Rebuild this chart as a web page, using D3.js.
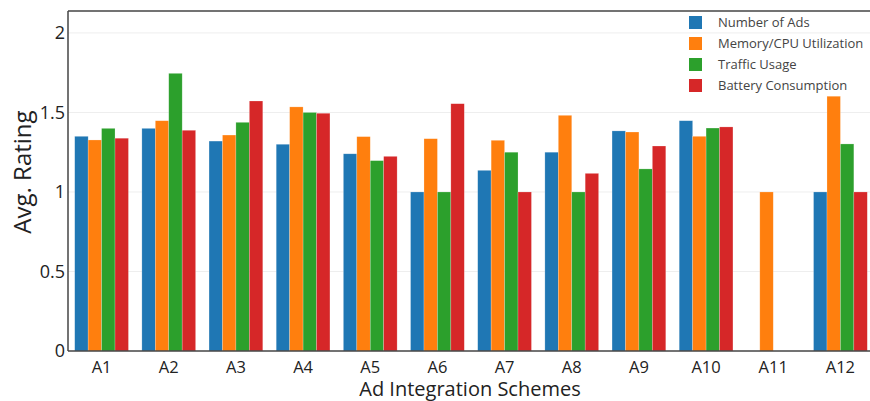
<!DOCTYPE html>
<html>
  <head>
    <meta charset="utf-8" />
    <script src="https://d3js.org/d3.v7.min.js"></script>
    <style>
      body { margin: 0; background: #fff; }
      text { font-family: "Open Sans", sans-serif; }
    </style>
  </head>
  <body>
    <script>
      // Chart data
      const schemes = ["A1", "A2", "A3", "A4", "A5", "A6", "A7", "A8", "A9", "A10", "A11", "A12"];
      const seriesNames = ["Number of Ads", "Memory/CPU Utilization", "Traffic Usage", "Battery Consumption"];
      const numberOfAds = [1.35, 1.40, 1.32, 1.30, 1.24, 1.0, 1.136, 1.25, 1.384, 1.448, 0, 1.0];
      const memoryCpu = [1.327, 1.448, 1.358, 1.535, 1.348, 1.335, 1.325, 1.482, 1.377, 1.35, 1.0, 1.602];
      const trafficUsage = [1.40, 1.746, 1.438, 1.50, 1.197, 1.0, 1.25, 1.0, 1.145, 1.402, 0, 1.302];
      const batteryConsumption = [1.338, 1.388, 1.572, 1.495, 1.224, 1.555, 1.0, 1.117, 1.289, 1.409, 0, 1.0];
      const yTicks = [0, 0.5, 1, 1.5, 2];
      const colors = ["#1f77b4", "#ff7f0e", "#2ca02c", "#d62728"];

      const series = [numberOfAds, memoryCpu, trafficUsage, batteryConsumption];

      const width = 870, height = 401;
      const plot = { left: 68, right: 874, top: 11, bottom: 351 };

      const svg = d3.select("body").append("svg")
        .attr("width", width)
        .attr("height", height);

      const x = d3.scaleBand().domain(schemes)
        .range([plot.left, plot.right])
        .paddingInner(0.2)
        .paddingOuter(0.1);

      const xInner = d3.scaleBand().domain(d3.range(series.length))
        .range([0, x.bandwidth()]);

      const y = d3.scaleLinear().domain([0, 2.138]).range([plot.bottom, plot.top]);

      // gridlines
      svg.append("g").selectAll("line")
        .data(yTicks.filter(d => d > 0))
        .join("line")
        .attr("x1", plot.left).attr("x2", plot.right)
        .attr("y1", d => y(d)).attr("y2", d => y(d))
        .attr("stroke", "#eeeeee").attr("stroke-width", 1);

      // bars
      const groups = svg.append("g").selectAll("g")
        .data(schemes)
        .join("g")
        .attr("transform", d => `translate(${x(d)},0)`);

      groups.selectAll("rect")
        .data((d, i) => series.map((s, k) => ({ k, v: s[i] })))
        .join("rect")
        .filter(d => d.v > 0)
        .attr("x", d => xInner(d.k))
        .attr("width", xInner.bandwidth())
        .attr("y", d => y(d.v))
        .attr("height", d => y(0) - y(d.v))
        .attr("fill", d => colors[d.k])
        .attr("stroke", "#ffffff")
        .attr("stroke-opacity", 0.35)
        .attr("stroke-width", 0.6);

      // axes lines
      const axisColor = "#444444";
      svg.append("line")
        .attr("x1", plot.left).attr("x2", plot.left)
        .attr("y1", plot.top).attr("y2", plot.bottom)
        .attr("stroke", axisColor).attr("stroke-width", 1.5);
      svg.append("line")
        .attr("x1", plot.left).attr("x2", plot.right)
        .attr("y1", plot.top).attr("y2", plot.top)
        .attr("stroke", axisColor).attr("stroke-width", 1.5);
      svg.append("line")
        .attr("x1", plot.left).attr("x2", plot.right)
        .attr("y1", plot.bottom).attr("y2", plot.bottom)
        .attr("stroke", axisColor).attr("stroke-width", 1.5);

      // y tick labels
      svg.append("g").selectAll("text")
        .data(yTicks)
        .join("text")
        .attr("x", plot.left - 3)
        .attr("y", d => y(d))
        .attr("dy", "0.36em")
        .attr("text-anchor", "end")
        .attr("font-size", 18)
        .attr("fill", "#222")
        .text(d => d3.format("")(d));

      // x tick labels
      svg.append("g").selectAll("text")
        .data(schemes)
        .join("text")
        .attr("x", d => x(d) + x.bandwidth() / 2)
        .attr("y", 373)
        .attr("text-anchor", "middle")
        .attr("font-size", 16.5)
        .attr("fill", "#222")
        .text(d => d);

      // axis titles
      svg.append("text")
        .attr("x", (plot.left + plot.right) / 2 - 1)
        .attr("y", 395.5)
        .attr("text-anchor", "middle")
        .attr("font-size", 20)
        .attr("fill", "#222")
        .text("Ad Integration Schemes");

      svg.append("text")
        .attr("transform", "translate(31,172) rotate(-90)")
        .attr("text-anchor", "middle")
        .attr("font-size", 24)
        .attr("fill", "#222")
        .text("Avg. Rating");

      // legend
      const legend = svg.append("g").selectAll("g")
        .data(seriesNames)
        .join("g")
        .attr("transform", (d, i) => `translate(689,${22.5 + i * 21})`);

      legend.append("rect")
        .attr("x", 0).attr("y", -6.5)
        .attr("width", 13).attr("height", 13)
        .attr("fill", (d, i) => colors[i]);

      legend.append("text")
        .attr("x", 29)
        .attr("dy", "0.35em")
        .attr("font-size", 13)
        .attr("fill", "#444")
        .text(d => d);
    </script>
  </body>
</html>
